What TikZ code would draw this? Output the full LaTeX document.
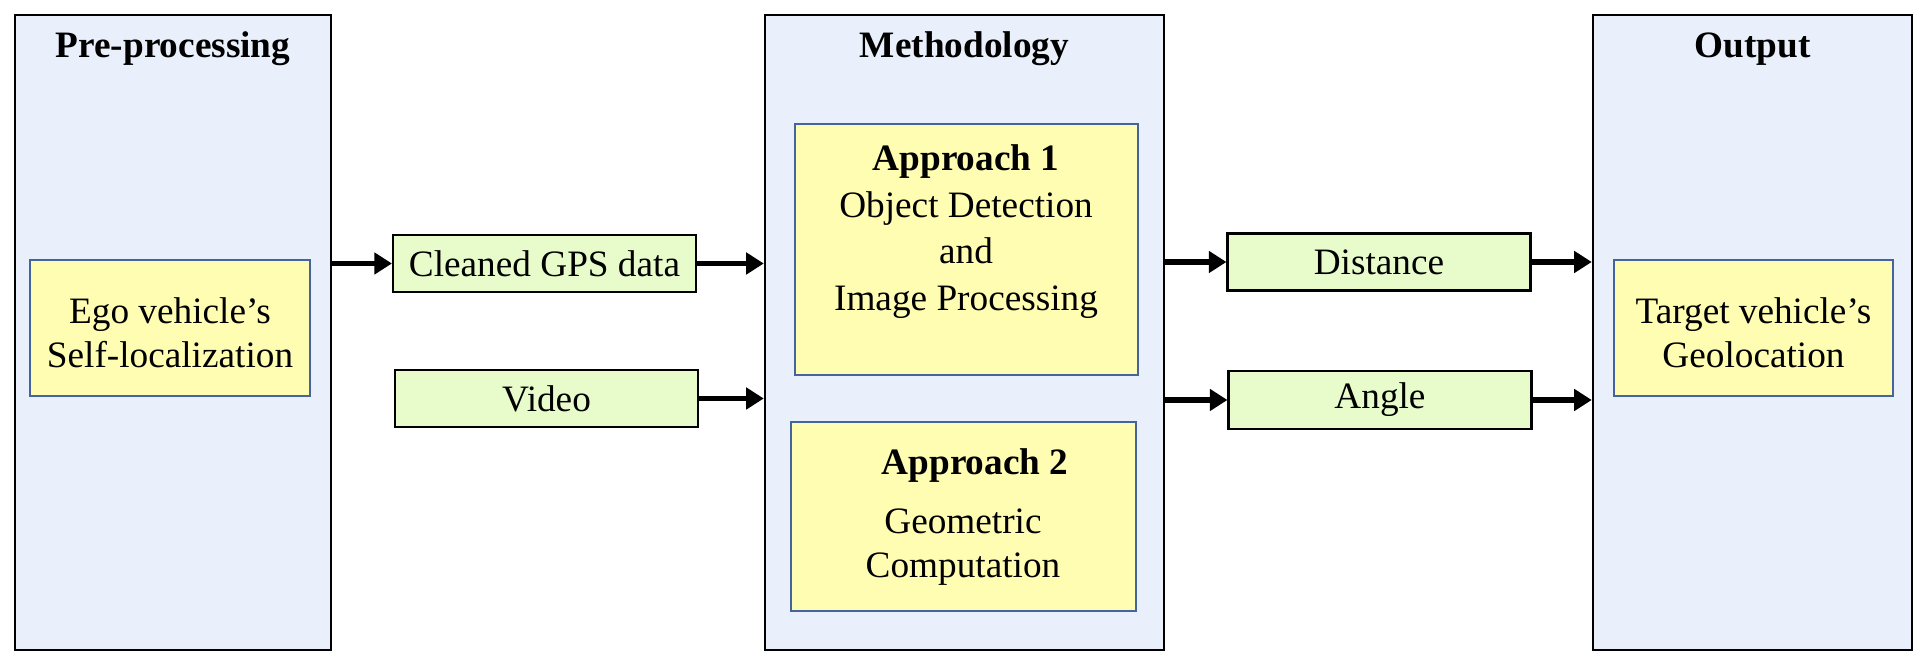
\documentclass[tikz,border=0pt]{standalone}
\usepackage{fontspec}
\setmainfont{Liberation Serif}
\usepackage{tikz}
\usetikzlibrary{positioning,arrows.meta}
\definecolor{stagefill}{HTML}{E9F0FC}
\definecolor{taskfill}{HTML}{FFFDB2}
\definecolor{taskline}{HTML}{45639F}
\definecolor{datafill}{HTML}{E7FBCB}
\tikzset{%
  stage/.style={
    draw=black,
    fill=stagefill,
    line width=0.7pt,
    minimum height=6.35cm
  },
  stage title/.style={
    font=\fontsize{10.6}{13}\selectfont\bfseries,
    anchor=base
  },
  task/.style={
    draw=taskline,
    fill=taskfill,
    line width=0.6pt,
    align=center,
    font=\fontsize{10.6}{12.5}\selectfont
  },
  data/.style={
    draw=black,
    fill=datafill,
    line width=0.6pt,
    minimum width=3.03cm,
    minimum height=0.57cm,
    font=\fontsize{10.6}{12.5}\selectfont
  },
  flow/.style={
    line width=1.7pt,
    -{Triangle[length=5pt,width=6pt]}
  },
}

\begin{document}
\begin{tikzpicture}
\useasboundingbox (0,0) rectangle (19.24,6.64);
    % three stages
    \node[stage, minimum width=3.16cm] (pre) at (1.73,3.315) {};
    \node[stage, minimum width=3.99cm] (meth) at (9.645,3.315) {};
    \node[stage, minimum width=3.19cm] (out) at (17.525,3.315) {};
    \node[stage title] (pretitle) at (1.73,6.065) {Pre-processing};
    \node[stage title] (methtitle) at (9.645,6.065) {Methodology};
    \node[stage title] (outtitle) at (17.525,6.065) {Output};
    % boxes inside the stages
    \node[task, minimum width=2.8cm, minimum height=1.36cm, text height=0.79cm] (ego) at (1.70,3.36) {Ego vehicle’s\\Self-localization};
    \node[task, minimum width=2.79cm, minimum height=1.36cm, text height=0.79cm] (target) at (17.535,3.36) {Target vehicle’s\\Geolocation};
    \node[task, minimum width=3.43cm, minimum height=2.51cm] (app1) at (9.665,4.145) {};
    \node[align=center, font=\fontsize{10.6}{13.3}\selectfont] (app1text) at (9.66,4.325)
        {\textbf{Approach 1}\\Object Detection\\and\\Image Processing};
    \node[task, minimum width=3.45cm, minimum height=1.89cm] (app2) at (9.635,1.475) {};
    \node[font=\fontsize{10.6}{13}\selectfont\bfseries] (app2title) at (9.75,1.985) {Approach 2};
    \node[align=center, font=\fontsize{10.6}{12.5}\selectfont] (app2text) at (9.63,1.17)
        {Geometric\\Computation};
    % data between the stages
    \node[data] (gps) at (5.445,4.005) {Cleaned GPS data};
    \node[data] (video) at (5.465,2.655) {Video};
    \node[data] (dist) at (13.79,4.02) {Distance};
    \node[data] (angle) at (13.80,2.64) {Angle};
    % arrows
    \draw[flow] (pre.east |- gps.west) -- (gps.west);
    \draw[flow] (gps.east) -- (meth.west |- gps.east);
    \draw[flow] (video.east) -- (meth.west |- video.east);
    \draw[flow] (meth.east |- dist.west) -- (dist.west);
    \draw[flow] (meth.east |- angle.west) -- (angle.west);
    \draw[flow] (dist.east) -- (out.west |- dist.east);
    \draw[flow] (angle.east) -- (out.west |- angle.east);
\end{tikzpicture}
\end{document}
